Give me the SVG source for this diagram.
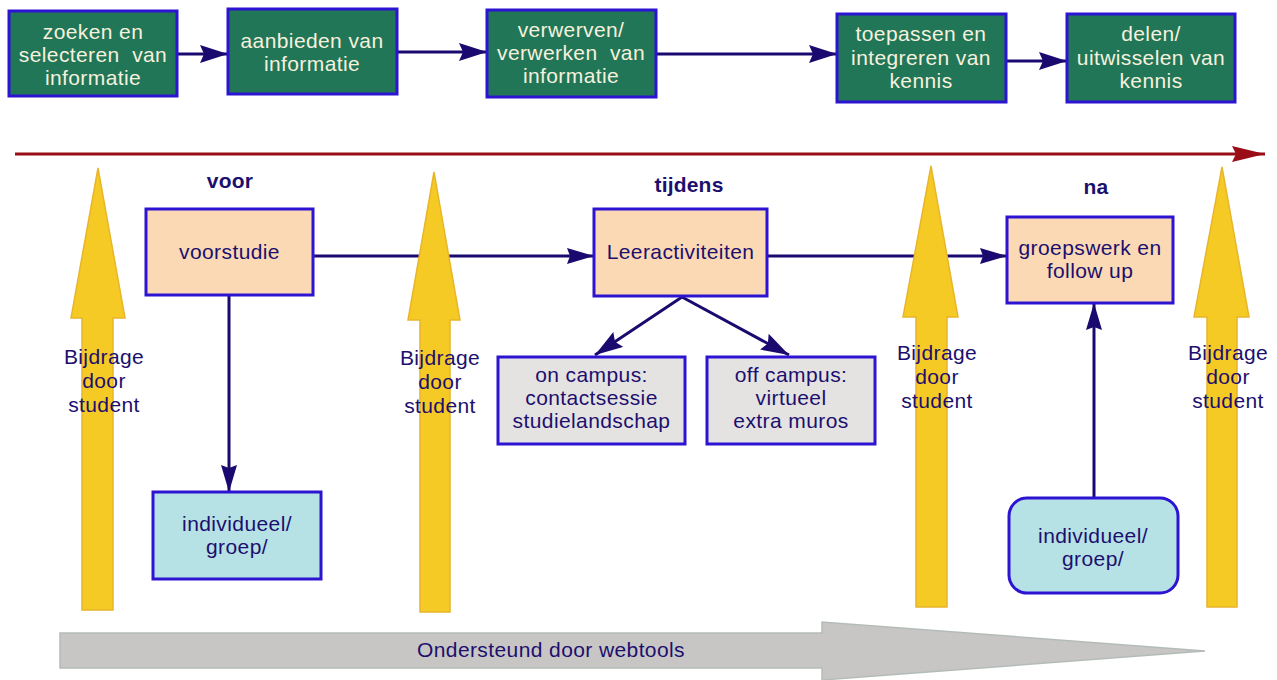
<svg xmlns="http://www.w3.org/2000/svg" width="1277" height="680" viewBox="0 0 1277 680">
  <defs>
    <style>
      text { font-family: "Liberation Sans", Arial, sans-serif; font-size: 21px; letter-spacing: 0.4px; text-anchor: middle; }
      .pre { white-space: pre; }
      .top rect { fill: #217657; stroke: #2c14d2; stroke-width: 3; }
      .top text { fill: #f6f1de; }
      .peach rect { fill: #fbd9b4; stroke: #2c14d2; stroke-width: 3; }
      .grey rect { fill: #e5e3e2; stroke: #2c14d2; stroke-width: 3; }
      .cyan rect { fill: #b6e2e6; stroke: #2c14d2; stroke-width: 3; }
      .navy { fill: #1c0f6e; }
      .phase { font-weight: bold; fill: #1c0f6e; font-size: 21px; letter-spacing: 0.2px; }
      .conn line { stroke: #1a0a70; stroke-width: 3; fill: none; }
      .yellow { fill: #f6ca25; stroke: #e8b52a; stroke-width: 1.5; }
    </style>
    <marker id="head" markerUnits="userSpaceOnUse" markerWidth="30" markerHeight="20" refX="28" refY="9" orient="auto">
      <path d="M0,0 L28,9 L0,18 L4,9 z" fill="#1a0a70"/>
    </marker>
    <marker id="headS" markerUnits="userSpaceOnUse" markerWidth="30" markerHeight="20" refX="27" refY="8" orient="auto">
      <path d="M0,0 L27,8 L0,16 L3,8 z" fill="#1a0a70"/>
    </marker>
    <marker id="headR" markerUnits="userSpaceOnUse" markerWidth="36" markerHeight="20" refX="33" refY="8" orient="auto">
      <path d="M0,0 L33,8 L0,16 L4,8 z" fill="#9a0c16"/>
    </marker>
  </defs>

  <rect width="1277" height="680" fill="#ffffff"/>

  <!-- connectors -->
  <g id="connectors" class="conn">
    <line x1="177" y1="54" x2="228" y2="54" marker-end="url(#head)"/>
    <line x1="397" y1="52" x2="487" y2="52" marker-end="url(#head)"/>
    <line x1="656" y1="54" x2="837" y2="54" marker-end="url(#head)"/>
    <line x1="1006" y1="61" x2="1067" y2="61" marker-end="url(#head)"/>
    <line x1="313" y1="256" x2="594" y2="256" marker-end="url(#headS)"/>
    <line x1="767" y1="256" x2="1007" y2="256" marker-end="url(#headS)"/>
    <line x1="229" y1="295" x2="229" y2="492" marker-end="url(#headS)"/>
    <line x1="1094" y1="498" x2="1094" y2="303" marker-end="url(#headS)"/>
    <line x1="682" y1="297" x2="595" y2="355" marker-end="url(#head)"/>
    <line x1="682" y1="297" x2="789" y2="355" marker-end="url(#head)"/>
  </g>

  <!-- timeline -->
  <g id="timeline">
    <line x1="15" y1="154" x2="1265" y2="154" stroke="#9a0c16" stroke-width="3" marker-end="url(#headR)"/>
  </g>

  <!-- student contribution arrows -->
  <g id="contribution-1">
    <polygon class="yellow" points="98,168 125,318 113,318 113,610 82,610 82,318 71,318"/>
    <text class="navy" x="104" y="364">Bijdrage</text>
    <text class="navy" x="104" y="388">door</text>
    <text class="navy" x="104" y="412">student</text>
  </g>
  <g id="contribution-2">
    <polygon class="yellow" points="434,172 460,320 450,320 450,612 420,612 420,320 408,320"/>
    <text class="navy" x="440" y="365">Bijdrage</text>
    <text class="navy" x="440" y="389">door</text>
    <text class="navy" x="440" y="413">student</text>
  </g>
  <g id="contribution-3">
    <polygon class="yellow" points="931,166 958,317 947,317 947,607 916,607 916,317 903,317"/>
    <text class="navy" x="937" y="360">Bijdrage</text>
    <text class="navy" x="937" y="384">door</text>
    <text class="navy" x="937" y="408">student</text>
  </g>
  <g id="contribution-4">
    <polygon class="yellow" points="1222,167 1249,317 1237,317 1237,607 1207,607 1207,317 1194,317"/>
    <text class="navy" x="1228" y="360">Bijdrage</text>
    <text class="navy" x="1228" y="384">door</text>
    <text class="navy" x="1228" y="408">student</text>
  </g>

  <!-- process steps -->
  <g id="step-zoeken" class="top">
    <rect x="9" y="11" width="168" height="85"/>
    <text x="93" y="39">zoeken en</text>
    <text class="pre" x="93" y="62">selecteren  van</text>
    <text x="93" y="85">informatie</text>
  </g>
  <g id="step-aanbieden" class="top">
    <rect x="228" y="9" width="169" height="85"/>
    <text x="312" y="48">aanbieden van</text>
    <text x="312" y="71">informatie</text>
  </g>
  <g id="step-verwerven" class="top">
    <rect x="487" y="10" width="169" height="87"/>
    <text x="571" y="37">verwerven/</text>
    <text class="pre" x="571" y="60">verwerken  van</text>
    <text x="571" y="83">informatie</text>
  </g>
  <g id="step-toepassen" class="top">
    <rect x="837" y="14" width="169" height="88"/>
    <text x="921" y="41">toepassen en</text>
    <text x="921" y="65">integreren van</text>
    <text x="921" y="88">kennis</text>
  </g>
  <g id="step-delen" class="top">
    <rect x="1067" y="14" width="168" height="88"/>
    <text x="1151" y="41">delen/</text>
    <text x="1151" y="65">uitwisselen van</text>
    <text x="1151" y="88">kennis</text>
  </g>

  <!-- phase labels -->
  <g id="phases">
    <text class="phase" x="230" y="188">voor</text>
    <text class="phase" x="689" y="192">tijdens</text>
    <text class="phase" x="1096" y="194">na</text>
  </g>

  <g id="voorstudie" class="peach">
    <rect x="146" y="209" width="167" height="86"/>
    <text class="navy" x="229.5" y="259">voorstudie</text>
  </g>
  <g id="leeractiviteiten" class="peach">
    <rect x="594" y="209" width="173" height="87"/>
    <text class="navy" x="680.5" y="259">Leeractiviteiten</text>
  </g>
  <g id="groepswerk" class="peach">
    <rect x="1007" y="217" width="166" height="86"/>
    <text class="navy" x="1090" y="255">groepswerk en</text>
    <text class="navy" x="1090" y="278">follow up</text>
  </g>

  <g id="on-campus" class="grey">
    <rect x="498" y="357" width="187" height="87"/>
    <text class="navy" x="591.5" y="382">on campus:</text>
    <text class="navy" x="591.5" y="405">contactsessie</text>
    <text class="navy" x="591.5" y="428">studielandschap</text>
  </g>
  <g id="off-campus" class="grey">
    <rect x="707" y="357" width="168" height="87"/>
    <text class="navy" x="791" y="382">off campus:</text>
    <text class="navy" x="791" y="405">virtueel</text>
    <text class="navy" x="791" y="428">extra muros</text>
  </g>

  <g id="individueel-voor" class="cyan">
    <rect x="153" y="492" width="168" height="87"/>
    <text class="navy" x="237" y="531">individueel/</text>
    <text class="navy" x="237" y="554">groep/</text>
  </g>
  <g id="individueel-na" class="cyan">
    <rect x="1009" y="498" width="169" height="95" rx="18" ry="18"/>
    <text class="navy" x="1093" y="543">individueel/</text>
    <text class="navy" x="1093" y="566">groep/</text>
  </g>

  <!-- webtools support band -->
  <g id="webtools">
    <polygon points="60,633 822,633 822,622 1205,651 822,680 822,668 60,668" fill="#c8c6c4" stroke="#b4bcb8" stroke-width="1.5"/>
    <text class="navy" x="551" y="657">Ondersteund door webtools</text>
  </g>
</svg>
